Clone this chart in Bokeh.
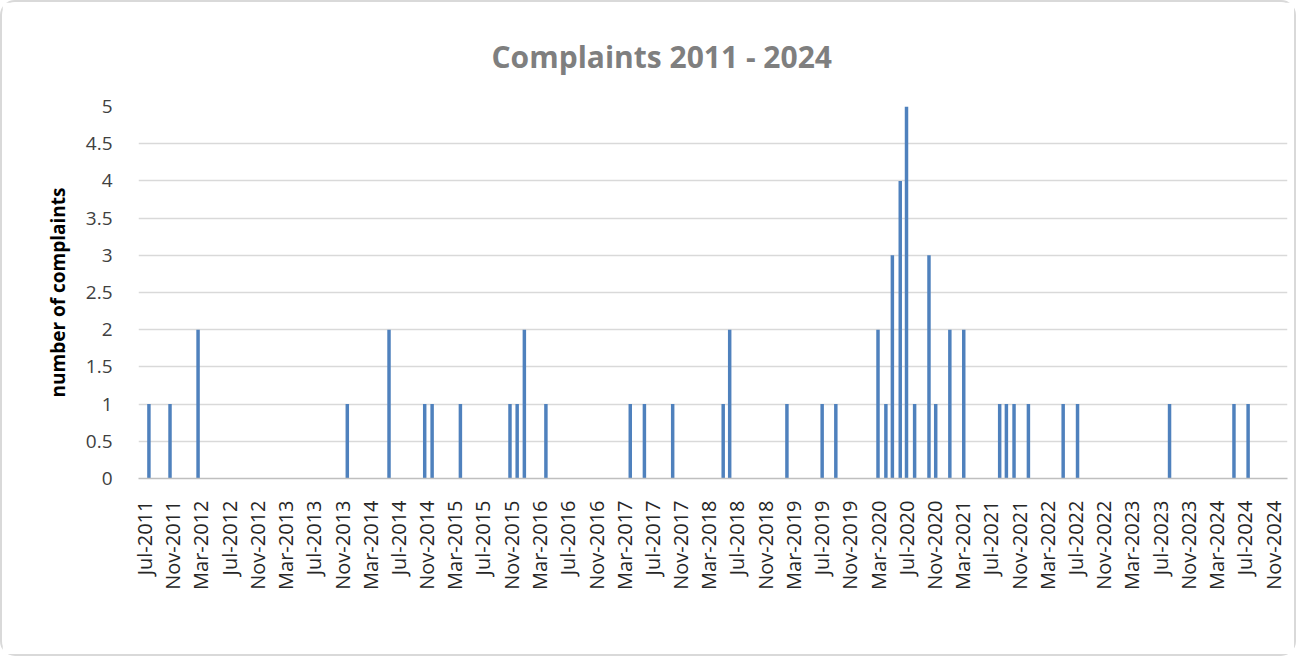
import math
import pandas as pd
from bokeh.plotting import figure
from bokeh.models import FixedTicker, DatetimeTickFormatter, CustomJSTickFormatter, Range1d
from bokeh.embed import file_html
from bokeh.resources import INLINE

title_text = "Complaints 2011 - 2024"
y_label = "number of complaints"

dates = ["2011-07-21", "2011-10-20", "2012-02-18", "2013-11-23", "2014-05-22",
         "2014-10-23", "2014-11-24", "2015-03-26", "2015-10-26", "2015-11-26",
         "2015-12-27", "2016-03-29", "2017-03-28", "2017-05-28", "2017-09-27",
         "2018-05-03", "2018-05-31", "2019-02-02", "2019-07-04", "2019-09-01",
         "2020-03-01", "2020-04-04", "2020-05-02", "2020-06-05", "2020-07-02",
         "2020-08-06", "2020-10-07", "2020-11-05", "2021-01-05", "2021-03-06",
         "2021-08-08", "2021-09-06", "2021-10-09", "2021-12-10", "2022-05-09",
         "2022-07-10", "2023-08-11", "2024-05-15", "2024-07-15"]
values = [1, 1, 2, 1, 2, 1, 1, 1, 1, 1, 2, 1, 1, 1, 1, 1, 2, 1, 1, 1,
          2, 1, 3, 4, 5, 1, 3, 1, 2, 2, 1, 1, 1, 1, 1, 1, 1, 1, 1]

x_tick_dates = pd.date_range("2011-07-01", "2024-11-01", freq="4MS")
y_ticks = [0, 0.5, 1, 1.5, 2, 2.5, 3, 3.5, 4, 4.5, 5]

x_start = pd.Timestamp("2011-06-06")
x_end = pd.Timestamp("2025-01-01")

x = pd.to_datetime(dates)

p = figure(width=1296, height=656, x_axis_type="datetime",
           x_range=Range1d(x_start, x_end), y_range=Range1d(0, 5),
           output_backend="svg", toolbar_location=None,
           min_border_left=136, min_border_right=11,
           min_border_top=104, min_border_bottom=180,
           title=title_text)

p.styles = {"border": "2px solid #d9d9d9", "border-radius": "15px"}

p.vbar(x=x, top=values, width=15 * 86400000, fill_color="#4F81BD", line_color=None)

p.title.align = "left"
p.title.offset = 353
p.title.text_font = "Open Sans"
p.title.text_font_size = "30px"
p.title.text_font_style = "bold"
p.title.text_color = "#7f7f7f"
p.title.standoff = 60

p.outline_line_color = None
p.background_fill_color = "white"
p.border_fill_color = "white"

p.xgrid.grid_line_color = None
p.ygrid.grid_line_color = "#d9d9d9"
p.ygrid.grid_line_width = 1.5
p.ygrid.ticker = FixedTicker(ticks=y_ticks)

xa = p.xaxis[0]
xa.ticker = FixedTicker(ticks=[t.value // 10**6 for t in x_tick_dates])
fmt = "%b-%Y"
xa.formatter = DatetimeTickFormatter(microseconds=fmt, milliseconds=fmt, seconds=fmt,
                                     minsec=fmt, minutes=fmt, hourmin=fmt, hours=fmt,
                                     days=fmt, months=fmt, years=fmt)
xa.major_label_orientation = math.pi / 2
xa.major_label_text_font = "Open Sans"
xa.major_label_text_font_size = "20px"
xa.major_label_text_color = "#262626"
xa.major_tick_line_color = None
xa.minor_tick_line_color = None
xa.major_label_standoff = 16
xa.axis_line_color = "#bfbfbf"
xa.axis_line_width = 1.5

ya = p.yaxis[0]
ya.ticker = FixedTicker(ticks=y_ticks)
ya.formatter = CustomJSTickFormatter(code="return tick.toString();")
ya.major_label_text_font = "Open Sans"
ya.major_label_text_font_size = "19px"
ya.major_label_text_color = "#404040"
ya.major_tick_line_color = None
ya.minor_tick_line_color = None
ya.axis_line_color = None
ya.major_label_standoff = 20
ya.axis_label = y_label
ya.axis_label_text_font = "Open Sans"
ya.axis_label_text_font_size = "19px"
ya.axis_label_text_font_style = "bold"
ya.axis_label_text_color = "black"
ya.axis_label_standoff = 12

open("out.html", "w").write(file_html(p, INLINE))
